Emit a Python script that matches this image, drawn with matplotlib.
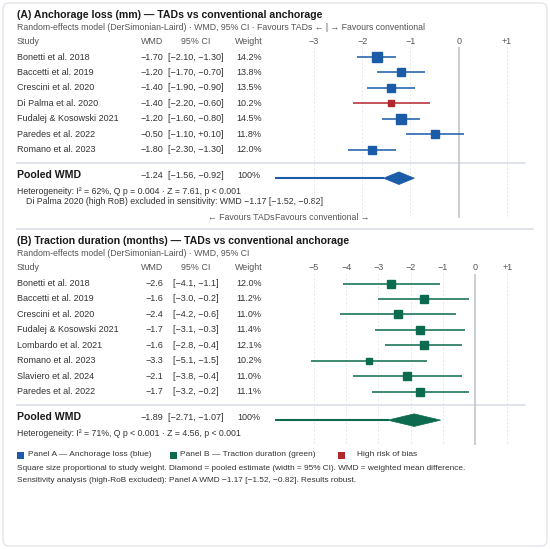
import matplotlib
matplotlib.use("Agg")
import matplotlib.pyplot as plt
from matplotlib.patches import Polygon, Rectangle, FancyBboxPatch

plt.rcParams['font.family'] = ['Liberation Sans', 'DejaVu Sans']

# ---------------- data ----------------
studies_a = ["Bonetti et al. 2018", "Baccetti et al. 2019", "Crescini et al. 2020",
             "Di Palma et al. 2020", "Fudalej & Kosowski 2021", "Paredes et al. 2022",
             "Romano et al. 2023"]
wmd_a = [-1.70, -1.20, -1.40, -1.40, -1.20, -0.50, -1.80]
lo_a = [-2.10, -1.70, -1.90, -2.20, -1.60, -1.10, -2.30]
hi_a = [-1.30, -0.70, -0.90, -0.60, -0.80, 0.10, -1.30]
weight_a = [14.2, 13.8, 13.5, 10.2, 14.5, 11.8, 12.0]
highrob_a = [False, False, False, True, False, False, False]
pooled_a = (-1.24, -1.56, -0.92)
ticks_a = [-3, -2, -1, 0, 1]

studies_b = ["Bonetti et al. 2018", "Baccetti et al. 2019", "Crescini et al. 2020",
             "Fudalej & Kosowski 2021", "Lombardo et al. 2021", "Romano et al. 2023",
             "Slaviero et al. 2024", "Paredes et al. 2022"]
wmd_b = [-2.6, -1.6, -2.4, -1.7, -1.6, -3.3, -2.1, -1.7]
lo_b = [-4.1, -3.0, -4.2, -3.1, -2.8, -5.1, -3.8, -3.2]
hi_b = [-1.1, -0.2, -0.6, -0.3, -0.4, -1.5, -0.4, -0.2]
weight_b = [12.0, 11.2, 11.0, 11.4, 12.1, 10.2, 11.0, 11.1]
pooled_b = (-1.89, -2.71, -1.07)
ticks_b = [-5, -4, -3, -2, -1, 0, 1]

BLUE = "#1a5ca8"
GREEN = "#0c6b4e"
RED = "#b0282c"
TXT = "#333333"
GREY = "#555555"
SEP = "#dde1e7"

W, H = 550, 549
fig = plt.figure(figsize=(5.5, 5.49), dpi=100)
fig.patch.set_facecolor("white")
bg = fig.add_axes([0, 0, 1, 1])
bg.set_xlim(0, W); bg.set_ylim(H, 0); bg.axis('off')

# outer card
bg.add_patch(FancyBboxPatch((3, 3), 544, 543, boxstyle="round,pad=0,rounding_size=6",
                            fc="white", ec="#e2e5ea", lw=1.0))


def fmt(v, nd):
    s = f"{abs(v):.{nd}f}"
    if v < 0:
        return "\u2212" + s
    if v > 0 and nd == 2:
        return "+" + s
    return s


def tick_label(t):
    if t < 0:
        return "\u2212" + str(abs(t))
    if t > 0:
        return "+" + str(t)
    return "0"


def panel(y0, title, subtitle, studies, wmd, lo, hi, weight, rob, pooled, ticks, xlim,
          color, nd, het, grid_bottom):
    ax = fig.add_axes([275 / W, 0, 250 / W, 1])
    ax.set_xlim(*xlim); ax.set_ylim(H, 0); ax.axis('off')
    ax.patch.set_alpha(0)

    bg.text(17, y0, title, fontsize=7.6, fontweight='bold', color="#1a1a1a", va='center')
    bg.text(17, y0 + 12, subtitle, fontsize=6.3, color=GREY, va='center')
    hy = y0 + 26
    bg.text(17, hy, "Study", fontsize=6.4, color=GREY, va='center')
    bg.text(163, hy, "WMD", fontsize=6.4, color=GREY, va='center', ha='right')
    bg.text(196, hy, "95% CI", fontsize=6.4, color=GREY, va='center', ha='center')
    bg.text(249, hy, "Weight", fontsize=6.4, color=GREY, va='center', ha='center')
    for t in ticks:
        ax.text(t, hy, tick_label(t), fontsize=6.5, color=GREY, va='center', ha='center')

    # grid lines
    for t in ticks:
        if t == 0:
            ax.vlines(0, hy + 6, grid_bottom, color="#c9cdd4", lw=1.4, zorder=1)
        else:
            ax.vlines(t, hy + 6, grid_bottom, color="#e8e8e8", lw=0.7,
                      linestyles=(0, (2, 2)), zorder=0)

    ys = [y0 + 42 + i * 15.45 for i in range(len(studies))]
    for i, y in enumerate(ys):
        bg.text(17, y, studies[i], fontsize=6.5, color=TXT, va='center')
        bg.text(163, y, fmt(wmd[i], nd), fontsize=6.5, color=TXT, va='center', ha='right')
        ci = "[" + fmt(lo[i], nd) + ", " + fmt(hi[i], nd) + "]"
        bg.text(196, y, ci, fontsize=6.5, color=TXT, va='center', ha='center')
        bg.text(249, y, f"{weight[i]:.1f}%", fontsize=6.5, color=TXT, va='center', ha='center')
        c = RED if rob[i] else color
        ax.hlines(y, lo[i], hi[i], color=c, lw=1.3, alpha=0.85, zorder=2)
        ax.plot(wmd[i], y, marker='s', ms=weight[i] * 0.46, color=c, mec=c, zorder=3)

    sep_y = ys[-1] + 13.5
    bg.plot([17, 525], [sep_y, sep_y], color=SEP, lw=1.3)
    py = sep_y + 12
    bg.text(17, py, "Pooled WMD", fontsize=7.6, fontweight='bold', color="#1a1a1a", va='center')
    est, plo, phi = pooled
    bg.text(163, py, fmt(est, 2), fontsize=6.5, color=TXT, va='center', ha='right')
    bg.text(196, py, "[" + fmt(plo, 2) + ", " + fmt(phi, 2) + "]", fontsize=6.5, color=TXT,
            va='center', ha='center')
    bg.text(249, py, "100%", fontsize=6.5, color=TXT, va='center', ha='center')
    dy = py + 3
    ax.plot([xlim[0], plo], [dy, dy], color=color, lw=1.5, zorder=2)
    ax.add_patch(Polygon([(plo, dy), (est, dy - 6.3), (phi, dy), (est, dy + 6.3)],
                         closed=True, fc=color, ec=color, lw=0.5, zorder=3))
    bg.text(17, py + 16, het, fontsize=6.3, color=TXT, va='center')
    return ax, py


axA, pyA = panel(15, "(A) Anchorage loss (mm) \u2014 TADs vs conventional anchorage",
                 "Random-effects model (DerSimonian-Laird) \u00b7 WMD, 95% CI \u00b7 Favours TADs \u2190 | \u2192 Favours conventional",
                 studies_a, wmd_a, lo_a, hi_a, weight_a, highrob_a, pooled_a, ticks_a,
                 (-3.81, 1.375), BLUE, 2,
                 "Heterogeneity: I\u00b2 = 62%, Q p = 0.004 \u00b7 Z = 7.61, p < 0.001", 218)
bg.text(26, 202, "Di Palma 2020 (high RoB) excluded in sensitivity: WMD \u22121.17 [\u22121.52, \u22120.82]",
        fontsize=6.3, color=TXT, va='center')
bg.text(275, 218, "\u2190 Favours TADs", fontsize=6.3, color=GREY, va='center', ha='right')
bg.text(275, 218, "Favours conventional \u2192", fontsize=6.3, color=GREY, va='center', ha='left')
bg.plot([17, 533], [228.5, 228.5], color=SEP, lw=1.3)

axB, pyB = panel(241.5, "(B) Traction duration (months) \u2014 TADs vs conventional anchorage",
                 "Random-effects model (DerSimonian-Laird) \u00b7 WMD, 95% CI",
                 studies_b, wmd_b, lo_b, hi_b, weight_b, [False] * len(studies_b), pooled_b,
                 ticks_b, (-6.21, 1.55), GREEN, 1,
                 "Heterogeneity: I\u00b2 = 71%, Q p < 0.001 \u00b7 Z = 4.56, p < 0.001", 445)

# legend
ly = 455
for x, c, lab, tx in [(17, BLUE, "Panel A \u2014 Anchorage loss (blue)", 27.5),
                      (170, GREEN, "Panel B \u2014 Traction duration (green)", 180.5),
                      (338, RED, "High risk of bias", 357)]:
    bg.add_patch(Rectangle((x, ly - 3.5), 7, 7, fc=c, ec=c, lw=0))
    bg.text(tx, ly, lab, fontsize=6.0, color=TXT, va='center')
bg.text(17, 469, "Square size proportional to study weight. Diamond = pooled estimate (width = 95% CI). WMD = weighted mean difference.",
        fontsize=5.95, color=TXT, va='center')
bg.text(17, 481, "Sensitivity analysis (high-RoB excluded): Panel A WMD \u22121.17 [\u22121.52, \u22120.82]. Results robust.",
        fontsize=5.95, color=TXT, va='center')

fig.savefig("out.png", dpi=100, facecolor="white")
